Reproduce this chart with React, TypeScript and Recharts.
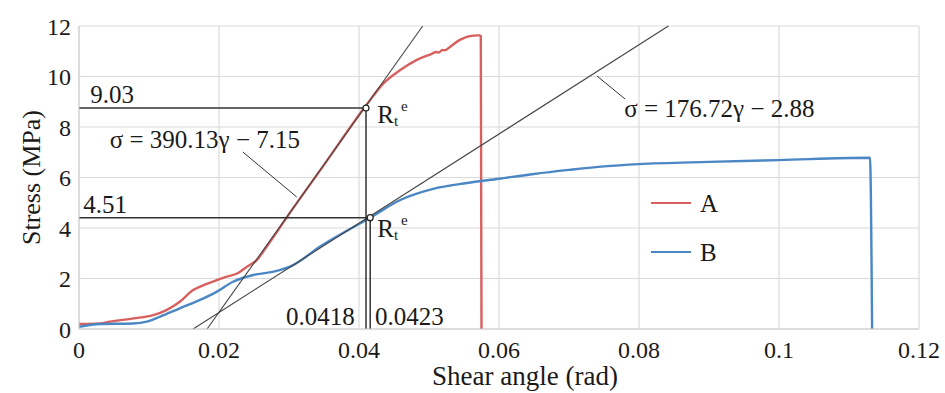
import {
  CartesianGrid,
  Legend,
  Line,
  LineChart,
  ReferenceDot,
  ReferenceLine,
  XAxis,
  YAxis,
} from "recharts";

// shear angle (rad) / stress (MPa)
const aGamma = [
  0, 0.003, 0.0044, 0.0078, 0.0106, 0.0125, 0.0144, 0.0163, 0.0178, 0.0197,
  0.0211, 0.0228, 0.024, 0.0254, 0.0268, 0.03, 0.035, 0.041, 0.0435, 0.0459,
  0.0482, 0.0504, 0.051, 0.0514, 0.0519, 0.0523, 0.0528, 0.0544, 0.0563,
  0.0572, 0.0574, 0.0575,
];
const aStress = [
  0.2, 0.22, 0.29, 0.42, 0.55, 0.75, 1.08, 1.54, 1.74, 1.94, 2.07, 2.23, 2.47,
  2.73, 3.26, 4.55, 6.5, 8.85, 9.73, 10.26, 10.65, 10.9, 10.97, 10.95, 11.05,
  11.04, 11.13, 11.45, 11.62, 11.63, 11.6, 0,
];
const bGamma = [
  0, 0.003, 0.0077, 0.0097, 0.0116, 0.0144, 0.0173, 0.0197, 0.022, 0.0249,
  0.0278, 0.0306, 0.0344, 0.038, 0.0416, 0.0459, 0.0506, 0.0554, 0.06, 0.065,
  0.07, 0.075, 0.08, 0.09, 0.1, 0.113, 0.1133,
];
const bStress = [
  0.09, 0.2, 0.22, 0.29, 0.49, 0.82, 1.15, 1.48, 1.87, 2.14, 2.27, 2.53, 3.26,
  3.85, 4.41, 5.11, 5.55, 5.78, 5.95, 6.14, 6.3, 6.44, 6.53, 6.62, 6.69, 6.78,
  0,
];

const xTicks = [0, 0.02, 0.04, 0.06, 0.08, 0.1, 0.12];
const yTicks = [0, 2, 4, 6, 8, 10, 12];

// tangent lines (end points), Rt^e points, leader lines
const tangentA = [
  [0.0183, 0],
  [0.0491, 12],
];
const tangentB = [
  [0.0163, 0],
  [0.0842, 12],
];
const rteA = [0.041, 8.75];
const rteB = [0.0416, 4.41];
const leaderA = [
  [0.0234, 7.01],
  [0.0311, 5.23],
];
const leaderB = [
  [0.074, 10.02],
  [0.078, 9.11],
];

const seriesA = aGamma.map((g, i) => ({ g, s: aStress[i] }));
const seriesB = bGamma.map((g, i) => ({ g, s: bStress[i] }));

const RED = "#d8605e";
const BLUE = "#4a87c4";
const FONT = "Liberation Serif";
const TXT = "#1a1a1a";

const seg = (p: number[][]) =>
  p.map(([x, y]) => ({ x, y })) as [{ x: number; y: number }, { x: number; y: number }];

const textAt =
  (text: string, anchor: "start" | "end" | "middle" = "start", size = 25) =>
  (props: any) => (
    <text
      x={props.cx}
      y={props.cy}
      textAnchor={anchor}
      style={{ fontFamily: FONT, fontSize: size }}
      fill={TXT}
    >
      {text}
    </text>
  );

const rteLabel = (props: any) => (
  <text x={props.cx} y={props.cy} style={{ fontFamily: FONT, fontSize: 25 }} fill={TXT}>
    R
    <tspan style={{ fontSize: 15 }} dy={3}>
      t
    </tspan>
    <tspan style={{ fontSize: 15 }} dx={3} dy={-15}>
      e
    </tspan>
  </text>
);

const LegendBox = (props: any) => {
  const items = props.payload || [];
  return (
    <svg width={90} height={80}>
      {items.map((it: any, i: number) => (
        <g key={it.value}>
          <line
            x1={6}
            x2={46}
            y1={15 + i * 49}
            y2={15 + i * 49}
            stroke={it.color}
            strokeWidth={2}
          />
          <text
            x={55}
            y={24 + i * 49}
            style={{ fontFamily: FONT, fontSize: 25 }}
            fill={TXT}
          >
            {it.value}
          </text>
        </g>
      ))}
    </svg>
  );
};

export default function App() {
  const tick = { fill: TXT, fontSize: 24, fontFamily: FONT, style: { fontFamily: FONT } };
  return (
    <div
      style={{
        position: "absolute",
        left: 0,
        top: 0,
        width: 945,
        height: 393,
        background: "#fff",
        fontFamily: FONT,
      }}
    >
      <LineChart
        width={945}
        height={393}
        margin={{ top: 26, right: 26, bottom: 0, left: 0 }}
        style={{ fontFamily: FONT }}
      >
        <CartesianGrid stroke="#dadada" strokeWidth={1.2} />
        <XAxis
          dataKey="g"
          type="number"
          domain={[0, 0.12]}
          ticks={xTicks}
          interval={0}
          height={64}
          tickSize={0}
          tickMargin={12}
          tick={tick}
          axisLine={{ stroke: "#cfcfcf" }}
          label={{
            content: (p: any) => (
              <text
                x={p.viewBox.x + p.viewBox.width / 2 + 26}
                y={p.viewBox.y + p.viewBox.height - 8}
                textAnchor="middle"
                style={{ fontFamily: FONT, fontSize: 27 }}
                fill={TXT}
              >
                Shear angle (rad)
              </text>
            ),
          }}
        />
        <YAxis
          type="number"
          domain={[0, 12]}
          ticks={yTicks}
          interval={0}
          width={79}
          tickSize={0}
          tickMargin={8}
          tick={tick}
          axisLine={{ stroke: "#cfcfcf" }}
          label={{
            content: (p: any) => {
              const cx = 40;
              const cy = p.viewBox.y + p.viewBox.height / 2;
              return (
                <text
                  x={cx}
                  y={cy}
                  transform={`rotate(-90, ${cx}, ${cy})`}
                  textAnchor="middle"
                  style={{ fontFamily: FONT, fontSize: 26 }}
                  fill={TXT}
                >
                  Stress (MPa)
                </text>
              );
            },
          }}
        />
        <Legend
          layout="vertical"
          align="center"
          verticalAlign="middle"
          wrapperStyle={{ position: "absolute", left: 645, top: 188, width: 90 }}
          content={LegendBox}
        />
        <Line
          data={seriesA}
          dataKey="s"
          name="A"
          type="monotone"
          stroke={RED}
          strokeWidth={2.4}
          dot={false}
          isAnimationActive={false}
        />
        <Line
          data={seriesB}
          dataKey="s"
          name="B"
          type="monotone"
          stroke={BLUE}
          strokeWidth={2.4}
          dot={false}
          isAnimationActive={false}
        />
        <ReferenceLine segment={seg(tangentA)} stroke="#444" strokeWidth={1.1} />
        <ReferenceLine segment={seg(tangentB)} stroke="#444" strokeWidth={1.1} />
        <ReferenceLine
          segment={seg([[0, rteA[1]], rteA])}
          stroke="#333"
          strokeWidth={1.5}
        />
        <ReferenceLine
          segment={seg([rteA, [rteA[0], 0]])}
          stroke="#333"
          strokeWidth={1.5}
        />
        <ReferenceLine
          segment={seg([[0, rteB[1]], rteB])}
          stroke="#333"
          strokeWidth={1.5}
        />
        <ReferenceLine
          segment={seg([rteB, [rteB[0], 0]])}
          stroke="#333"
          strokeWidth={1.5}
        />
        <ReferenceLine segment={seg(leaderA)} stroke="#333" strokeWidth={1} />
        <ReferenceLine segment={seg(leaderB)} stroke="#333" strokeWidth={1} />
        <ReferenceDot x={rteA[0]} y={rteA[1]} r={3} fill="#fff" stroke="#222" strokeWidth={1.2} />
        <ReferenceDot x={rteB[0]} y={rteB[1]} r={3} fill="#fff" stroke="#222" strokeWidth={1.2} />
        <ReferenceDot x={0.0016} y={8.95} shape={textAt("9.03")} />
        <ReferenceDot x={0.0006} y={4.59} shape={textAt("4.51")} />
        <ReferenceDot x={0.0394} y={0.16} shape={textAt("0.0418", "end")} />
        <ReferenceDot x={0.0423} y={0.16} shape={textAt("0.0423")} />
        <ReferenceDot x={0.0044} y={7.17} shape={textAt("σ = 390.13γ − 7.15")} />
        <ReferenceDot x={0.0779} y={8.4} shape={textAt("σ = 176.72γ − 2.88")} />
        <ReferenceDot x={0.0426} y={8.16} shape={rteLabel} />
        <ReferenceDot x={0.0426} y={3.64} shape={rteLabel} />
      </LineChart>
    </div>
  );
}
